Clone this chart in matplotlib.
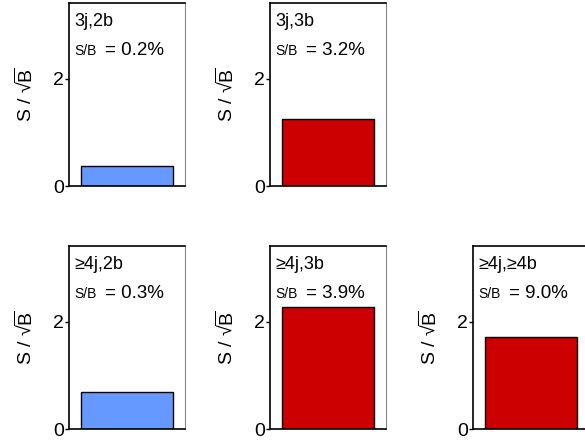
import matplotlib
matplotlib.use("Agg")
import matplotlib.pyplot as plt

plt.rcParams['font.family'] = ['Liberation Sans', 'DejaVu Sans']
plt.rcParams['mathtext.fontset'] = 'custom'
plt.rcParams['mathtext.rm'] = 'Liberation Sans'
plt.rcParams['mathtext.it'] = 'Liberation Sans'

# data
categories = ['3j,2b', '3j,3b', '\u22654j,2b', '\u22654j,3b', '\u22654j,\u22654b']
s_over_sqrtb = [0.37, 1.25, 0.69, 2.27, 1.72]
s_over_b = ['0.2%', '3.2%', '0.3%', '3.9%', '9.0%']
bar_colors = ['#6699ff', '#cc0000', '#6699ff', '#cc0000', '#cc0000']

# panel layout (left, bottom) in figure fractions
positions = [(0.118, 0.578), (0.4615, 0.578),
             (0.118, 0.027), (0.4615, 0.027), (0.8085, 0.027)]
w, h = 0.198, 0.416

fig = plt.figure(figsize=(5.85, 4.41), dpi=100)
for i in range(len(categories)):
    ax = fig.add_axes([positions[i][0], positions[i][1], w, h])
    ax.bar([0.5], [s_over_sqrtb[i]], width=0.8, color=bar_colors[i],
           edgecolor='black', linewidth=1.0)
    ax.set_xlim(0, 1)
    ax.set_ylim(0, 3.42)
    ax.set_xticks([])
    ax.set_yticks([0, 2])
    ax.set_yticklabels(['0', '2'])
    ax.tick_params(axis='y', direction='out', length=3, width=1, pad=0.5, labelsize=14)
    ax.spines['right'].set_color('#888888')
    for s in ['left', 'bottom', 'top']:
        ax.spines[s].set_linewidth(1.2)
    ax.set_ylabel('S / \u221a$\\overline{\\mathrm{B}}$', fontsize=14, labelpad=13)
    ax.text(0.05, 0.87, categories[i], transform=ax.transAxes,
            fontsize=13, va='baseline', ha='left')
    ax.text(0.05, 0.713, 'S/B', transform=ax.transAxes,
            fontsize=10, va='baseline', ha='left')
    ax.text(0.31, 0.713, '= ' + s_over_b[i], transform=ax.transAxes,
            fontsize=13.5, va='baseline', ha='left')

fig.savefig('out.png', dpi=100)
